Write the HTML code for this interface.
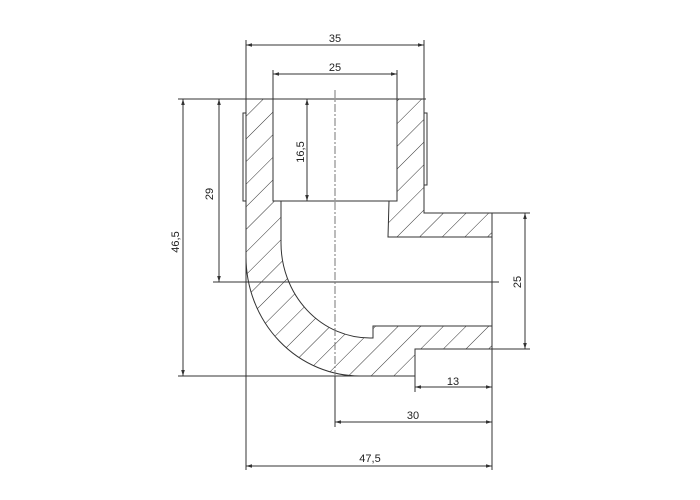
<!DOCTYPE html>
<html><head><style>html,body{margin:0;padding:0;background:#fff}svg{display:block}</style></head>
<body>
<svg width="700" height="500" viewBox="0 0 700 500" xmlns="http://www.w3.org/2000/svg" font-family="Liberation Sans, sans-serif" font-size="11" fill="#222">
<defs>
<pattern id="h" patternUnits="userSpaceOnUse" width="16" height="16" patternTransform="rotate(45)">
<line x1="0" y1="0" x2="0" y2="16" stroke="#333" stroke-width="1"/>
</pattern>
<marker id="a" viewBox="0 0 10 10" refX="10" refY="5" markerWidth="6" markerHeight="6" orient="auto-start-reverse"><path d="M0,2 L10,5 L0,8z" fill="#333"/></marker>
</defs>
<g stroke="#333" stroke-width="1" fill="none">
<!-- solid regions -->
<path fill="url(#h)" d="M246,99 L273,99 L273,201 L281,201 L281,243 A89,95 0 0 0 370,338 L373,338 L373,326 L492,326 L492,349 L415,349 L415,376 L360,376 A114,119 0 0 1 246,257 Z"/>
<path fill="url(#h)" d="M397,99 L424,99 L424,213 L492,213 L492,237 L388,237 L389,201 L397,201 Z"/>
<rect x="243" y="113" width="3" height="88" fill="#fff"/>
<rect x="424" y="113" width="3" height="72" fill="#fff"/>
<line x1="273" y1="201" x2="397" y2="201"/>
<!-- extension lines -->
<line x1="178" y1="99" x2="426" y2="99"/>
<line x1="246" y1="40" x2="246" y2="470"/>
<line x1="424" y1="40" x2="424" y2="99"/>
<line x1="273" y1="70" x2="273" y2="99"/>
<line x1="397" y1="70" x2="397" y2="99"/>
<line x1="213" y1="282" x2="499" y2="282"/>
<line x1="178" y1="376" x2="413" y2="376"/>
<line x1="492" y1="213" x2="530" y2="213"/>
<line x1="492" y1="349" x2="530" y2="349"/>
<line x1="492" y1="213" x2="492" y2="470"/>
<line x1="415" y1="349" x2="415" y2="392"/>
<line x1="335" y1="376" x2="335" y2="427"/>
<line x1="335" y1="90" x2="335" y2="376" stroke-dasharray="8,2,2,2" stroke="#777"/>
<!-- dimension lines -->
<line x1="246" y1="45" x2="424" y2="45" marker-start="url(#a)" marker-end="url(#a)"/>
<line x1="273" y1="74" x2="397" y2="74" marker-start="url(#a)" marker-end="url(#a)"/>
<line x1="183" y1="99" x2="183" y2="376" marker-start="url(#a)" marker-end="url(#a)"/>
<line x1="219" y1="99" x2="219" y2="282" marker-start="url(#a)" marker-end="url(#a)"/>
<line x1="307" y1="99" x2="307" y2="201" marker-start="url(#a)" marker-end="url(#a)"/>
<line x1="525" y1="213" x2="525" y2="349" marker-start="url(#a)" marker-end="url(#a)"/>
<line x1="415" y1="387" x2="492" y2="387" marker-start="url(#a)" marker-end="url(#a)"/>
<line x1="335" y1="422" x2="492" y2="422" marker-start="url(#a)" marker-end="url(#a)"/>
<line x1="246" y1="466" x2="492" y2="466" marker-start="url(#a)" marker-end="url(#a)"/>
</g>
<text x="335" y="42" text-anchor="middle">35</text>
<text x="335" y="71" text-anchor="middle">25</text>
<text x="453" y="385" text-anchor="middle">13</text>
<text x="413" y="419" text-anchor="middle">30</text>
<text x="370" y="462" text-anchor="middle">47,5</text>
<text transform="translate(179,242) rotate(-90)" text-anchor="middle">46,5</text>
<text transform="translate(213,194) rotate(-90)" text-anchor="middle">29</text>
<text transform="translate(304,152) rotate(-90)" text-anchor="middle">16,5</text>
<text transform="translate(521,282) rotate(-90)" text-anchor="middle">25</text>
</svg>
</body></html>
